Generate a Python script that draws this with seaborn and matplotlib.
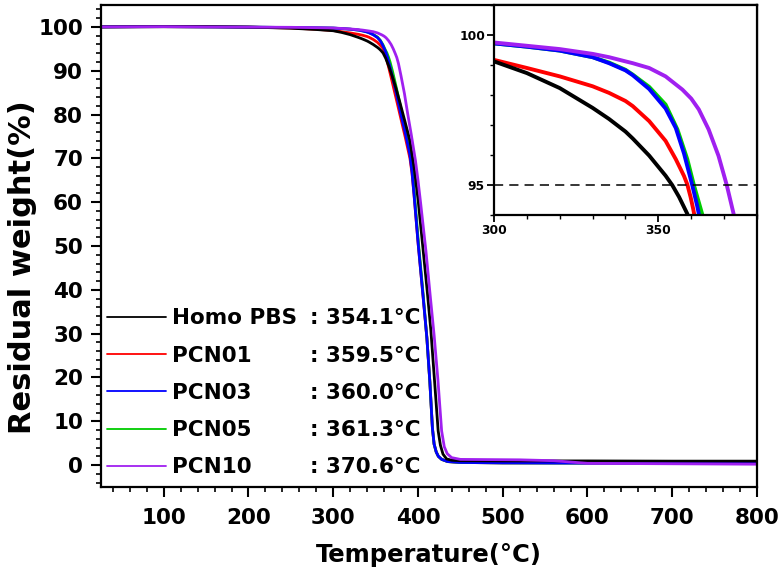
import pandas as pd
import matplotlib.pyplot as plt
import seaborn as sns
from matplotlib.lines import Line2D
from matplotlib.ticker import MultipleLocator

sns.set_style('ticks')
plt.rcParams['font.family'] = ['DejaVu Sans']
plt.rcParams['font.weight'] = 'bold'
plt.rcParams['axes.labelweight'] = 'bold'
plt.rcParams.update({'text.color': 'black', 'axes.labelcolor': 'black', 'axes.edgecolor': 'black',
                     'xtick.color': 'black', 'ytick.color': 'black'})

# samples and their T(5%) values
samples = ['Homo PBS', 'PCN01', 'PCN03', 'PCN05', 'PCN10']
t5 = [354.1, 359.5, 360.0, 361.3, 370.6]
colors = ['#000000', '#ff0000', '#0000ff', '#00cc00', '#a020f0']

# TGA curves (temperature in C, residual weight in %)
black_T = [26, 100, 150, 200, 250, 280, 300, 310, 320, 330, 335, 340, 342.2, 347.2, 352.2, 354.2,
           356.3, 358.8, 362.0, 365.6, 370.0, 374.0, 378.6, 384.5, 390.4, 395.5, 400.2, 406.1, 411.0,
           415.2, 419.5, 423.8, 426.5, 429.5, 433.8, 440.0, 450.0, 500, 600, 700, 800]
black_W = [100.0, 100.1, 100.1, 99.95, 99.7, 99.4, 99.12, 98.73, 98.23, 97.57, 97.2, 96.78, 96.55, 95.98, 95.31, 95.0,
           94.6, 94.04, 92.8, 91.0, 88.5, 86.0, 82.8, 78.5, 74.1, 67.8, 60.4, 49.0, 39.5,
           30.7, 19.3, 7.8, 4.5, 2.5, 1.4, 1.1, 1.0, 0.95, 0.95, 0.9, 0.9]

red_T = [26, 100, 200, 250, 280, 300, 310, 320, 330, 335, 340, 342.2, 347.2, 352.2, 355.3, 357.8,
         358.8, 359.8, 360.6, 361.2, 363.0, 366.0, 369.0, 372.7, 376.0, 380.0, 385.0, 390.5, 393.0,
         395.3, 400.2, 406.0, 410.5, 414.0, 417.0, 419.0, 421.5, 424.0, 428.0, 435, 450, 500, 600, 700, 800]
red_W = [100.0, 100.05, 99.95, 99.75, 99.45, 99.17, 98.9, 98.62, 98.29, 98.07, 97.8, 97.63, 97.13, 96.47, 95.86, 95.3,
         95.02, 94.6, 94.2, 93.85, 92.6, 90.3, 87.9, 84.9, 82.2, 78.9, 74.8, 70.0, 66.5,
         61.8, 50.5, 38.5, 29.0, 19.0, 8.5, 4.8, 3.0, 2.0, 1.3, 0.8, 0.6, 0.5, 0.5, 0.45, 0.45]

blue_T = [26, 100, 200, 250, 280, 300, 310, 320, 330, 335, 340, 342.2, 347.2, 352.2, 355.3, 357.8,
          360.3, 361.8, 362.3, 364.0, 366.0, 369.0, 372.7, 376.0, 380.0, 385.0, 390.5, 393.0, 395.3,
          400.2, 406.0, 410.5, 414.0, 417.0, 419.0, 421.5, 424.0, 428.0, 435, 450, 500, 600, 700, 800]
blue_W = [100.0, 100.05, 99.95, 99.85, 99.78, 99.72, 99.61, 99.48, 99.26, 99.06, 98.82, 98.66, 98.2, 97.55, 96.9, 96.05,
          95.0, 94.31, 94.04, 93.0, 91.6, 89.3, 86.3, 83.4, 79.9, 75.8, 70.8, 66.8, 61.8,
          50.5, 38.5, 29.0, 19.0, 8.5, 4.8, 3.0, 2.0, 1.3, 0.8, 0.6, 0.5, 0.45, 0.45, 0.4]

green_T = [26, 100, 200, 250, 280, 300, 310, 320, 330, 335, 340, 342.2, 347.2, 352.2, 355.8, 358.8,
           360.8, 363.3, 365.0, 367.0, 370.0, 373.5, 377.0, 381.0, 386.0, 391.0, 393.5, 395.8,
           400.6, 406.3, 410.5, 414.0, 417.0, 419.0, 421.5, 424.0, 428.0, 435, 450, 500, 600, 700, 800]
green_W = [100.0, 100.05, 99.95, 99.85, 99.78, 99.72, 99.61, 99.48, 99.26, 99.08, 98.84, 98.68, 98.27, 97.68, 96.85, 95.86,
           95.0, 94.04, 93.2, 92.0, 89.8, 86.9, 83.9, 80.3, 75.9, 71.0, 66.8, 61.8,
           50.5, 38.5, 29.0, 19.0, 8.5, 4.8, 3.0, 2.0, 1.3, 0.8, 0.6, 0.5, 0.45, 0.45, 0.4]

purple_T = [26, 100, 200, 250, 280, 300, 310, 320, 330, 335, 340, 342.2, 347.2, 352.2, 357.3, 360.0, 362.3,
            365.3, 368.3, 370.8, 372.3, 373.3, 375.0, 377.0, 380.0, 384.0, 388.0, 392.0, 397.0, 400.0,
            403.0, 409.3, 414.0, 419.1, 423.5, 427.9, 431.0, 434.5, 439.7, 450, 520, 560, 600, 700, 800]
purple_W = [100.0, 100.05, 99.95, 99.9, 99.82, 99.75, 99.64, 99.53, 99.37, 99.26, 99.12, 99.06, 98.9, 98.62, 98.18, 97.88, 97.52,
            96.85, 95.97, 95.0, 94.31, 93.85, 93.0, 91.6, 88.8, 84.8, 80.0, 75.5, 69.5, 65.0,
            60.0, 49.0, 39.5, 29.5, 19.5, 7.8, 4.2, 2.6, 1.7, 1.3, 1.2, 1.0, 0.4, 0.3, 0.2]

temps = [black_T, red_T, blue_T, green_T, purple_T]
weights = [black_W, red_W, blue_W, green_W, purple_W]

frames = []
for name, T, W in zip(samples, temps, weights):
    frames.append(pd.DataFrame({'Temperature': T, 'Weight': W, 'Sample': name}))
df = pd.concat(frames, ignore_index=True)

palette = dict(zip(samples, colors))
draw_order = ['PCN01', 'PCN05', 'PCN03', 'Homo PBS', 'PCN10']

fig = plt.figure(figsize=(7.82, 5.79), dpi=100)
ax = fig.add_axes([0.1292, 0.1589, 0.8388, 0.8325])

sns.lineplot(data=df, x='Temperature', y='Weight', hue='Sample', hue_order=draw_order,
             palette=palette, estimator=None, sort=False, linewidth=2.0, legend=False, ax=ax)

ax.set_xlim(26, 800)
ax.set_ylim(-5, 105)
ax.xaxis.set_major_locator(MultipleLocator(100))
ax.xaxis.set_minor_locator(MultipleLocator(20))
ax.yaxis.set_major_locator(MultipleLocator(10))
ax.yaxis.set_minor_locator(MultipleLocator(2))
ax.tick_params(axis='x', which='major', pad=8)
ax.tick_params(which='major', direction='out', length=7, width=1.5, labelsize=15.5)
ax.tick_params(axis='y', which='major', pad=6)
ax.tick_params(which='minor', direction='out', length=3.5, width=1.2)
for s in ax.spines.values():
    s.set_linewidth(1.6)
ax.set_xlabel('Temperature(°C)', fontsize=17.5, labelpad=11)
ax.set_ylabel('Residual weight(%)', fontsize=22)
ax.yaxis.set_label_coords(-0.0976, 0.456)

# legend: names and values as two aligned columns
handles = [Line2D([], [], color=c, lw=1.3) for c in colors]
leg1 = ax.legend(handles, samples, loc='lower left', bbox_to_anchor=(0.009, 0.02),
                 frameon=False, fontsize=15.5, handlelength=2.74, handletextpad=0.28,
                 labelspacing=0.8, borderpad=0, borderaxespad=0)
ax.add_artist(leg1)
blank = [Line2D([], [], linestyle='none') for _ in samples]
ax.legend(blank, [f': {t:.1f}°C' for t in t5], loc='lower left', bbox_to_anchor=(0.318, 0.02),
          frameon=False, fontsize=15.5, handlelength=0, handletextpad=0,
          labelspacing=0.8, borderpad=0, borderaxespad=0)

# inset zoom around the 5% weight loss
axin = fig.add_axes([0.6317, 0.6287, 0.3363, 0.3627])
sns.lineplot(data=df, x='Temperature', y='Weight', hue='Sample', hue_order=draw_order,
             palette=palette, estimator=None, sort=False, linewidth=2.8, legend=False, ax=axin)
axin.axhline(95, color='black', lw=1.1, ls=(0, (6, 4)))
axin.set_xlim(300, 380)
axin.set_ylim(94, 101)
axin.xaxis.set_major_locator(MultipleLocator(50))
axin.xaxis.set_minor_locator(MultipleLocator(10))
axin.yaxis.set_major_locator(MultipleLocator(5))
axin.yaxis.set_minor_locator(MultipleLocator(1))
axin.tick_params(which='major', direction='out', length=5, width=1.3, labelsize=8.8, pad=1.5)
axin.tick_params(which='minor', direction='out', length=3, width=1.0)
for s in axin.spines.values():
    s.set_linewidth(1.6)
axin.set_xlabel('')
axin.set_ylabel('')

fig.savefig('out.png', dpi=100)
